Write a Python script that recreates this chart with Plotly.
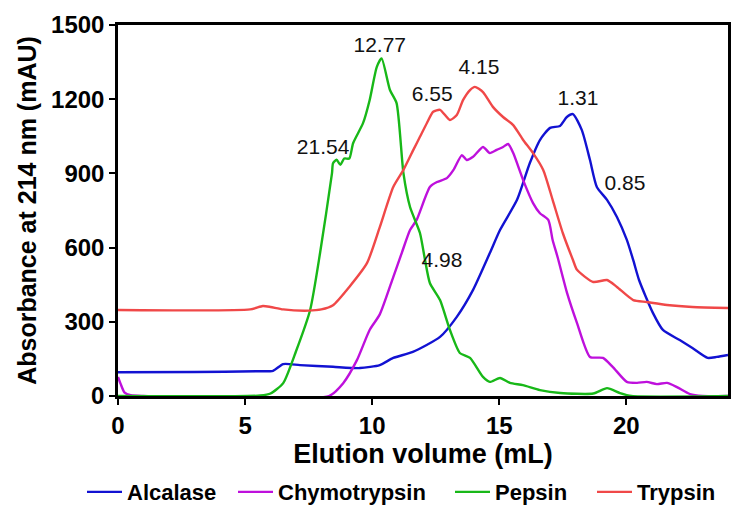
import plotly.graph_objects as go

# ---- data ----
alc_x = [0, 3, 5.5, 6.1, 6.5, 7.16, 8.46, 9.52, 10.3, 10.83, 11.6, 12.67, 13.33, 13.97, 14.63, 15.03,
         15.7, 16.2, 16.6, 17.0, 17.39, 17.66, 17.9, 18.25, 18.57, 18.84, 19.24, 19.63, 20.02, 20.27,
         20.5, 21.05, 21.44, 22.1, 22.6, 23.2, 23.56, 24]
alc_y = [96, 97, 100, 102, 129, 125, 118, 113, 125, 154, 178, 239, 320, 429, 578, 671,
         793, 941, 1035, 1084, 1092, 1128, 1140, 1075, 954, 845, 793, 724, 631, 550,
         469, 335, 267, 226, 194, 154, 158, 166]

chy_x = [0, 0.1, 0.25, 0.5, 1, 8.3, 8.86, 9.4, 9.9, 10.3, 10.83, 11.17, 11.49, 11.75, 12.27, 12.55,
         12.94, 13.2, 13.53, 13.72, 13.97, 14.36, 14.63, 14.9, 15.15, 15.35, 15.55, 15.94, 16.33,
         16.6, 16.93, 17.1, 17.3, 17.67, 18.06, 18.57, 19.08, 19.47, 20.02, 20.42, 20.8, 21.2,
         21.6, 21.99, 22.5, 23, 24]
chy_y = [77, 50, 15, 3, 0, 0, 52, 145, 267, 330, 481, 580, 671, 712, 845, 865,
         881, 914, 974, 954, 967, 1007, 982, 995, 1007, 1019, 982, 873, 780,
         739, 712, 631, 560, 416, 295, 158, 154, 117, 57, 53, 57, 48,
         53, 36, 8, 0, 0]

pep_x = [0, 5.6, 6.0, 6.5, 7.0, 7.56, 7.95, 8.42, 8.46, 8.6, 8.75, 8.9, 9.1, 9.25, 9.64, 9.9,
         10.18, 10.37, 10.7, 10.96, 11.23, 11.49, 11.88, 12.08, 12.27, 12.67, 13.06, 13.45, 13.85,
         14.36, 14.63, 15.03, 15.42, 15.93, 16.6, 17.4, 18.7, 19.24, 19.75, 20.2, 24]
pep_y = [0, 2, 10, 52, 180, 348, 578, 901, 941, 955, 935, 960, 960, 1022, 1103, 1196,
         1330, 1365, 1237, 1184, 901, 764, 659, 550, 457, 388, 267, 174, 154,
         77, 57, 73, 53, 44, 24, 12, 10, 32, 12, 0, 0]

try_x = [0, 5.2, 5.7, 6.0, 6.5, 7.5, 8.0, 8.46, 9.1, 9.8, 10.3, 10.83, 11.23, 11.62, 11.88, 12.15,
         12.4, 12.67, 13.06, 13.33, 13.58, 13.85, 14.04, 14.36, 14.75, 15.15, 15.55, 15.94, 16.33,
         16.73, 17.1, 17.5, 17.9, 18.06, 18.7, 19.24, 19.63, 20.27, 20.8, 21.6, 22.6, 24]
try_y = [348, 350, 364, 360, 350, 345, 350, 367, 441, 538, 683, 845, 914, 995, 1048, 1103,
         1149, 1157, 1116, 1136, 1197, 1237, 1250, 1229, 1169, 1128, 1095, 1035, 982,
         914, 793, 659, 550, 510, 461, 469, 441, 388, 380, 368, 360, 356]

series_names = ["Alcalase", "Chymotrypsin", "Pepsin", "Trypsin"]
series_colors = ["#1212D2", "#BE10DC", "#18B818", "#F04848"]

peak_labels = ["12.77", "21.54", "6.55", "4.15", "1.31", "0.85", "4.98"]
peak_x = [10.3, 8.07, 12.36, 14.2, 18.1, 19.95, 12.75]
peak_y = [1413, 998, 1213, 1322, 1197, 853, 542]

x_ticks = [0, 5, 10, 15, 20]
y_ticks = [0, 300, 600, 900, 1200, 1500]

FONT = "Liberation Sans, Arial"
W, H = 736, 509
legend_ids = ["legend", "legend2", "legend3", "legend4"]
legend_left_px = [74, 225, 442, 584]  # where each legend entry box starts

fig = go.Figure()
for xs, ys, name, col, lg in zip([alc_x, chy_x, pep_x, try_x], [alc_y, chy_y, pep_y, try_y],
                                 series_names, series_colors, legend_ids):
    fig.add_trace(go.Scatter(x=xs, y=ys, mode="lines", name=name, legend=lg,
                             line=dict(color=col, width=2.4, shape="spline", smoothing=0.6)))

fig.add_trace(go.Scatter(x=peak_x, y=peak_y, mode="text", text=peak_labels,
                         textfont=dict(family=FONT, size=21, color="#111"),
                         showlegend=False, hoverinfo="skip"))

legends = {}
for lg, px in zip(legend_ids, legend_left_px):
    legends[lg] = dict(orientation="h", x=px / W, xanchor="left", xref="container",
                       y=0.049, yanchor="middle", yref="container",
                       bgcolor="rgba(0,0,0,0)",
                       font=dict(family=FONT, size=22, color="black", weight="bold"),
                       itemwidth=35)

fig.update_layout(
    width=W, height=H,
    margin=dict(l=110, r=16, t=17, b=121, autoexpand=False),
    paper_bgcolor="white", plot_bgcolor="white",
    font=dict(family=FONT, color="black"),
    showlegend=True,
    xaxis=dict(range=[0, 24], tickvals=x_ticks, showgrid=False, zeroline=False,
               showline=True, linecolor="black", linewidth=2.5, mirror=True,
               ticks="outside", ticklen=6, tickwidth=2, tickcolor="black",
               tickfont=dict(family=FONT, size=24, color="black", weight="bold"),
               title=dict(text="Elution volume (mL)", standoff=6,
                          font=dict(family=FONT, size=27, weight="bold"))),
    yaxis=dict(range=[0, 1500], tickvals=y_ticks, showgrid=False, zeroline=False,
               showline=True, linecolor="black", linewidth=2.5, mirror=True,
               ticks="outside", ticklen=6, tickwidth=2, tickcolor="black",
               tickfont=dict(family=FONT, size=24, color="black", weight="bold"),
               title=dict(text="Absorbance at 214 nm (mAU)", standoff=8,
                          font=dict(family=FONT, size=25, weight="bold"))),
    **legends,
)

fig.write_html("out.html")
